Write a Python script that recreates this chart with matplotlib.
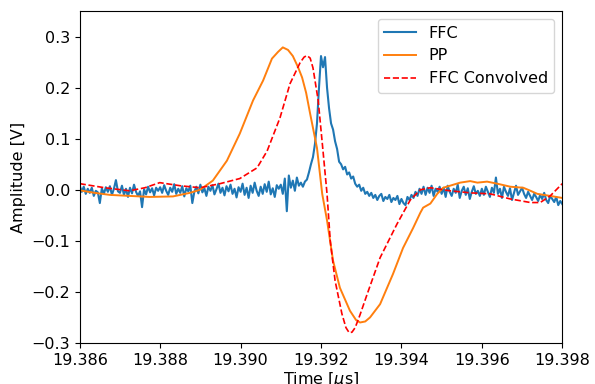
import matplotlib
matplotlib.use("Agg")
import matplotlib.pyplot as plt
import numpy as np

# --- FFC: regularly sampled trace (start, step in us) ---
ffc_t0 = 19.386
ffc_dt = 0.00005
ffc_v = [
    # 19.386 - 19.387
    0.008, -0.004, 0.006, -0.008, 0.002, -0.006, 0.004, -0.012, -0.002, -0.005,
    -0.026, 0.003, -0.008, 0.005, -0.004, 0.007, -0.010, 0.002, 0.019, -0.003,
    # 19.387 - 19.388
    -0.006, 0.008, -0.010, 0.002, -0.014, 0.004, -0.007, 0.010, -0.004, -0.012,
    -0.003, -0.034, 0.001, -0.009, 0.006, -0.005, 0.003, -0.011, 0.004, -0.002,
    # 19.388 - 19.389
    0.005, -0.006, 0.009, -0.002, -0.010, 0.004, -0.004, 0.011, -0.008, 0.002,
    -0.006, 0.007, -0.013, 0.003, -0.003, 0.008, -0.026, -0.004, 0.006, -0.007,
    # 19.389 - 19.390
    0.010, -0.005, 0.003, -0.012, 0.006, -0.002, 0.009, -0.009, 0.001, 0.012,
    -0.006, 0.004, -0.011, 0.007, -0.003, 0.010, -0.008, 0.002, -0.015, 0.005,
    # 19.390 - 19.391
    -0.004, 0.012, -0.010, 0.004, -0.016, 0.008, -0.006, 0.014, -0.002, -0.012,
    0.006, -0.008, 0.011, -0.004, 0.016, -0.009, 0.003, -0.014, 0.009, 0.002,
    # 19.391 - 19.392
    0.010, -0.008, 0.022, -0.042, 0.028, 0.004, 0.018, -0.002, 0.024, 0.008,
    0.014, 0.006, 0.016, 0.020, 0.034, 0.050, 0.064, 0.090, 0.130, 0.200,
    # 19.392 - 19.393
    0.262, 0.240, 0.260, 0.200, 0.160, 0.130, 0.118, 0.095, 0.080, 0.055,
    0.050, 0.040, 0.045, 0.030, 0.034, 0.022, 0.026, 0.012, 0.006, 0.010,
    # 19.393 - 19.394
    -0.002, 0.004, -0.008, -0.004, -0.012, -0.006, -0.016, -0.010, -0.020, -0.012,
    -0.008, -0.022, -0.014, -0.018, -0.010, -0.024, -0.016, -0.020, -0.012, -0.028,
    # 19.394 - 19.395
    -0.018, -0.026, -0.030, -0.014, -0.020, -0.010, -0.016, -0.004, -0.012, 0.002,
    -0.008, 0.006, -0.010, 0.004, -0.006, 0.008, -0.012, 0.002, -0.004, 0.006,
    # 19.395 - 19.396
    -0.008, 0.004, -0.014, 0.008, -0.004, -0.012, 0.002, -0.006, 0.010, -0.016,
    -0.002, 0.006, -0.010, 0.003, -0.018, -0.004, 0.007, -0.008, -0.002, -0.012,
    # 19.396 - 19.397
    0.002, -0.010, 0.006, -0.004, -0.014, 0.004, -0.006, 0.024, -0.008, 0.002,
    -0.016, 0.006, -0.004, -0.012, 0.003, -0.020, -0.006, 0.008, -0.010, -0.003,
    # 19.397 - 19.398
    0.004, -0.008, -0.016, -0.004, -0.012, -0.020, -0.008, -0.014, -0.022, -0.010,
    -0.018, -0.006, -0.020, -0.026, -0.012, -0.018, -0.024, -0.014, -0.030, -0.022,
    -0.028,
]

# --- PP ---
pp_t = [19.38600, 19.38637, 19.38675, 19.38724, 19.38774, 19.38832, 19.38874,
        19.38899, 19.38931, 19.38966, 19.38998, 19.39031, 19.39056, 19.39078,
        19.39093, 19.39105, 19.39118, 19.39130, 19.39143, 19.39153, 19.39163,
        19.39173, 19.39190, 19.39203, 19.39215, 19.39230, 19.39247, 19.39272,
        19.39287, 19.39297, 19.39310, 19.39322, 19.39347, 19.39379, 19.39404,
        19.39429, 19.39447, 19.39454, 19.39472, 19.39489, 19.39504, 19.39521,
        19.39546, 19.39571, 19.39589, 19.39613, 19.39638, 19.39671, 19.39703,
        19.39721, 19.39738, 19.39770, 19.39800]
pp_v = [-0.001, -0.006, -0.010, -0.012, -0.014, -0.013, -0.006,
        0.000, 0.018, 0.057, 0.110, 0.175, 0.214, 0.257,
        0.270, 0.279, 0.274, 0.262, 0.240, 0.220, 0.190,
        0.149, 0.082, -0.008, -0.060, -0.139, -0.192, -0.237,
        -0.255, -0.260, -0.258, -0.250, -0.224, -0.165, -0.114,
        -0.075, -0.045, -0.035, -0.027, -0.008, 0.004, 0.008,
        0.014, 0.017, 0.014, 0.016, 0.012, 0.006, 0.004,
        -0.002, -0.008, -0.012, -0.016]

# --- FFC Convolved ---
conv_t = [19.38600, 19.38662, 19.38724, 19.38762, 19.38799, 19.38849, 19.38899,
          19.38949, 19.38998, 19.39041, 19.39066, 19.39098, 19.39123, 19.39148,
          19.39158, 19.39165, 19.39173, 19.39180, 19.39193, 19.39205, 19.39215,
          19.39223, 19.39235, 19.39252, 19.39262, 19.39270, 19.39277, 19.39285,
          19.39297, 19.39315, 19.39347, 19.39389, 19.39422, 19.39447, 19.39472,
          19.39521, 19.39571, 19.39621, 19.39671, 19.39721, 19.39745, 19.39770,
          19.39800]
conv_v = [0.012, 0.004, -0.002, 0.004, 0.014, 0.008, 0.004,
          0.012, 0.022, 0.043, 0.076, 0.141, 0.208, 0.249,
          0.260, 0.263, 0.258, 0.239, 0.175, 0.076, -0.008,
          -0.100, -0.178, -0.243, -0.270, -0.280, -0.279, -0.270,
          -0.245, -0.204, -0.133, -0.067, -0.020, 0.000, 0.004,
          -0.002, -0.006, -0.008, -0.018, -0.025, -0.025, -0.012,
          0.012]

ffc_t = ffc_t0 + ffc_dt * np.arange(len(ffc_v))

plt.rcParams['font.size'] = 11.5

fig = plt.figure(figsize=(5.95, 3.84), dpi=100)
ax = fig.add_axes([0.134, 0.107, 0.811, 0.864])

ax.plot(ffc_t, ffc_v, color='#1f77b4', lw=1.5, label='FFC')
ax.plot(pp_t, pp_v, color='#ff7f0e', lw=1.4, label='PP')
ax.plot(conv_t, conv_v, color='red', ls='--', lw=1.2, label='FFC Convolved')

ax.set_xlim(19.386, 19.398)
ax.set_ylim(-0.3, 0.35)
ax.set_xticks([19.386, 19.388, 19.390, 19.392, 19.394, 19.396, 19.398])
ax.set_xticklabels(['19.386', '19.388', '19.390', '19.392', '19.394', '19.396', '19.398'])
ax.set_yticks([-0.3, -0.2, -0.1, 0.0, 0.1, 0.2, 0.3])
ax.set_xlabel(r'Time [$\mu$s]', labelpad=2)
ax.set_ylabel('Amplitude [V]')
ax.legend(loc='upper right')

fig.savefig('out.png', dpi=100)
